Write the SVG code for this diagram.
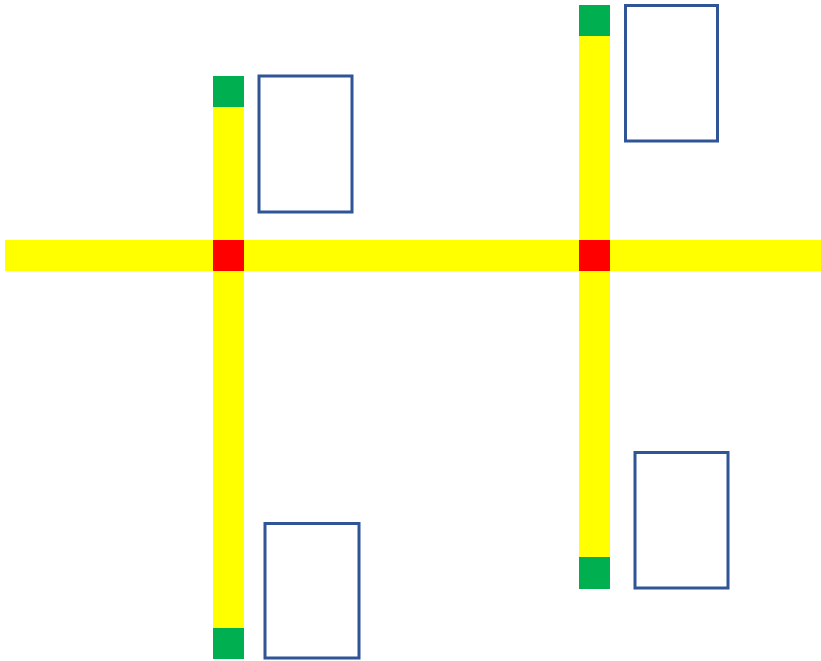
<svg xmlns="http://www.w3.org/2000/svg" width="821" height="661" viewBox="0 0 821 661">
<style>
.road{fill:#FFFF00}
.cross{fill:#FF0000}
.end{fill:#00B050}
.box{fill:#FFFFFF;stroke:#2F5597;stroke-width:3}
</style>
<rect width="821" height="661" fill="#FFFFFF"/>
<g id="connectors">
<rect class="road" x="5" y="240" width="816" height="31"/>
<rect class="road" x="213" y="76" width="31" height="583"/>
<rect class="road" x="579" y="5" width="31" height="584"/>
</g>
<g id="junction-left"><rect class="cross" x="213" y="240" width="31" height="31"/></g>
<g id="junction-right"><rect class="cross" x="579" y="240" width="31" height="31"/></g>
<g id="end-left-top"><rect class="end" x="213" y="76" width="31" height="31"/></g>
<g id="end-left-bottom"><rect class="end" x="213" y="628" width="31" height="31"/></g>
<g id="end-right-top"><rect class="end" x="579" y="5" width="31" height="31"/></g>
<g id="end-right-bottom"><rect class="end" x="579" y="557" width="31" height="32"/></g>
<g id="box-left-top"><rect class="box" x="259" y="76" width="93" height="136"/></g>
<g id="box-left-bottom"><rect class="box" x="265" y="523.5" width="94" height="134.5"/></g>
<g id="box-right-top"><rect class="box" x="625.5" y="5.5" width="92" height="135.5"/></g>
<g id="box-right-bottom"><rect class="box" x="635" y="452.5" width="93" height="135.5"/></g>
</svg>
